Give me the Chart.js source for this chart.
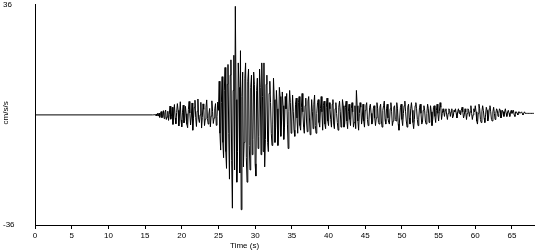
<!DOCTYPE html>
<html>
<head>
<meta charset="utf-8">
<title>Acceleration record</title>
<script src="https://cdn.jsdelivr.net/npm/chart.js@4.4.1/dist/chart.umd.min.js"></script>
<style>
    body { margin: 0; background: #fff; }
    canvas { display: block; }
</style>
</head>
<body>
<canvas id="seismogram" width="550" height="250"></canvas>
<script>
// Flat lead-in before the first arrival
const leadInTimes = [0];
const leadInValues = [0];

// Acceleration samples (cm/s/s), one every 0.1 s starting at 16.0 s
const sampleStart = 16.0;
const sampleStep = 0.1;
const accel = [
    0, 0, 0, 0.1, -0.2, 0.3, -0.3, 0.5, -0.4, 0.6,                    // 16
    -0.8, 0.5, 1.1, -0.9, -0.6, 1.4, -1.2, 0.8, 1.6, -1.5,            // 17
    -0.7, 1.2, -1.8, 0.2, 2.9, -1.4, -0.5, 2.5, -3.1, 0.6,            // 18
    3.4, -1.0, -2.9, 0.8, 3.7, 1.5, -3.6, 0.3, 4.3, -1.7,             // 19
    -3.9, 0.9, 3.2, -2.6, -1.8, 2.8, 0.4, -3.1, -4.2, 1.7,            // 20
    4.4, 0.6, -3.3, -0.7, 3.9, -5.0, -1.1, 2.5, 4.8, -0.9,            // 21
    -3.8, 1.2, 5.2, -1.4, -2.5, 0.0, 4.1, -4.3, -0.9, 3.6,            // 22
    1.8, -3.5, -1.4, 2.5, 4.9, -1.2, -3.0, 0.3, 2.1, -3.9,            // 23
    -0.4, 4.6, 1.1, -2.8, -1.0, 2.0, 3.7, -3.4, -0.6, 4.2,            // 24
    1.5, 11.0, -6.0, -11.5, 4.0, 12.5, -9.0, -14.0, 8.0, 15.5,        // 25
    -12.0, -17.5, 10.0, 16.5, -6.0, -21.0, 13.0, 18.0, -15.0, -30.5,  // 26
    8.0, 19.5, -18.0, 35.5, 5.0, -22.0, -12.0, 17.0, 9.0, -19.0,      // 27
    21.0, -31.0, 6.0, 14.0, -17.0, -9.0, 12.0, 17.0, -14.0, -22.0,    // 28
    11.0, 15.0, -10.0, -18.0, 9.0, 13.0, -13.0, -8.0, 14.0, 10.0,     // 29
    -16.0, -20.0, 8.0, 12.0, -11.0, -7.0, 15.0, 9.0, -13.0, 17.0,     // 30
    6.0, -12.0, 17.0, -17.0, -8.0, 10.0, 13.0, -9.0, -12.0, 7.0,      // 31
    11.0, 4.0, -6.0, -10.0, -3.0, 12.0, 5.0, -9.0, -4.0, 8.0,         // 32
    2.0, -10.0, -5.0, 9.0, 6.0, -7.0, -2.0, 7.5, 3.0, -8.0,           // 33
    -4.0, 6.0, 2.0, 7.0, -3.0, -11.0, 1.0, 8.0, 4.0, -6.0,            // 34
    -2.0, 6.5, 1.0, -5.0, -7.0, 3.5, 5.5, -1.0, -6.0, 4.0,            // 35
    6.0, -3.5, -5.0, 2.5, 7.0, 1.0, -4.0, -6.0, 3.0, 5.5,             // 36
    -2.0, -5.5, 4.5, 6.0, -1.0, -6.5, -2.0, 5.0, 1.0, -4.5,           // 37
    3.5, 6.5, -3.5, -6.0, 0.5, 4.0, 5.0, -2.5, -4.0, 2.0,             // 38
    6.0, 1.0, -5.0, 3.0, 4.5, -3.0, -4.5, 2.5, 5.5, -2.0,             // 39
    -3.5, 4.0, 2.0, -1.5, -4.0, 3.5, 5.0, -3.0, -4.5, 2.0,            // 40
    4.0, 0.5, -2.5, -5.0, 2.5, 4.5, 1.0, -4.0, -2.0, 5.0,             // 41
    3.0, -4.0, -3.0, 2.5, 4.5, -2.0, -4.5, 1.0, 3.5, -1.5,            // 42
    -3.5, 2.0, 4.0, 1.0, -4.0, -2.5, 3.0, -4.5, 8.0, 3.0,             // 43
    -2.0, -5.0, 0.5, 4.0, 2.5, -3.0, -1.0, 3.5, -2.0, -4.0,           // 44
    1.5, 3.0, 4.0, -1.5, -3.5, -2.0, 2.5, 3.5, 0.5, -3.0,             // 45
    -2.5, 2.0, 3.0, -1.0, -3.5, -1.0, 4.0, 2.0, -2.5, -3.0,           // 46
    2.5, 3.5, -2.0, -4.0, 1.5, 3.0, 4.5, -1.5, -3.0, 2.0,             // 47
    3.5, -1.0, -2.5, -3.0, 2.0, 4.0, 1.0, -3.5, -2.0, 2.5,            // 48
    3.0, -1.5, -2.0, 4.0, 2.0, -3.0, -5.0, -1.0, 2.5, 3.5,            // 49
    -1.5, -3.5, 0.5, 3.0, 4.5, 1.0, -2.0, -4.0, 2.5, 3.5,             // 50
    -1.0, -3.0, 2.0, 4.0, 1.5, -2.5, -4.5, -1.5, 3.0, 4.0,            // 51
    2.0, -1.5, -3.5, -1.0, 2.5, 3.5, 0.5, -3.0, -2.5, 1.5,            // 52
    3.0, 1.5, -2.0, -3.0, 0.5, 3.5, 2.0, -2.5, -1.0, 3.0,             // 53
    1.0, -3.5, -1.5, 2.5, 3.0, -0.5, -2.5, 1.5, 3.5, 0.5,             // 54
    -2.0, 1.0, 4.0, 2.5, -1.5, 0.5, 2.0, 1.0, -0.5, 1.5,              // 55
    2.0, 0.0, -1.5, 0.5, 2.0, 1.5, -0.5, 1.0, 2.0, -1.0,              // 56
    -0.5, 1.5, 1.0, 2.0, 0.5, -1.0, 1.0, 2.0, 0.5, 1.5,               // 57
    0.0, 1.5, 2.5, 1.0, -1.0, 0.0, 2.0, 1.0, -1.5, 0.5,               // 58
    2.0, 1.5, -0.5, 1.0, 3.0, 0.5, -1.5, 0.0, 2.0, 1.0,               // 59
    3.0, 1.0, -2.0, -3.0, 0.5, 3.5, 2.0, -1.5, -2.5, 1.0,             // 60
    3.0, 1.5, -1.0, -2.5, 0.0, 2.5, 1.5, -2.0, -1.0, 2.0,             // 61
    3.0, 1.0, -1.5, -2.0, 1.0, 2.5, 0.5, -1.5, 0.5, 2.0,              // 62
    1.5, -0.5, 0.5, 2.0, 1.5, -1.0, 0.0, 1.5, 1.0, -0.5,              // 63
    1.0, 2.0, 0.5, -0.5, 1.0, 1.5, 0.5, -0.5, 1.0, 1.5,               // 64
    0.5, 1.0, 1.5, 0.0, -0.5, 1.0, 1.0, 0.5, 0.0, 1.0,                // 65
    1.0, 0.5, 0.5, 1.0, 0.5, 0.0, 0.5, 1.0, 0.5, 0.5,                 // 66
    0.5, 0.5, 0.5, 0.5, 0.5, 0.5, 0.5, 0.5, 0.5, 0.5,                 // 67
    0.5                                                               // 68
];

const xTickValues = [0, 5, 10, 15, 20, 25, 30, 35, 40, 45, 50, 55, 60, 65];
const yTickValues = [-36, 36];
const xRange = [0, 68];
const yRange = [-36, 36];
const xTitle = 'Time (s)';
const yTitle = 'cm/s/s';

Chart.defaults.font.family = '"Liberation Sans", Arial, sans-serif';
Chart.defaults.font.size = 8;
Chart.defaults.color = '#000';

// axis titles sit in odd spots on the original, so they are drawn by hand
const axisTitlePlugin = {
    id: 'axisTitles',
    afterDraw(chart) {
        const { ctx, chartArea } = chart;
        ctx.save();
        ctx.fillStyle = '#000';
        ctx.font = '8px "Liberation Sans", Arial, sans-serif';
        ctx.textAlign = 'center';
        ctx.textBaseline = 'middle';
        ctx.fillText(xTitle, chartArea.left + (chartArea.right - chartArea.left) * 0.42, 246);
        ctx.translate(6, (chartArea.top + chartArea.bottom) / 2 - 2);
        ctx.rotate(-Math.PI / 2);
        ctx.fillText(yTitle, 0, 0);
        ctx.restore();
    }
};

class SeismogramChart {
    constructor(canvasId) {
        const ctx = document.getElementById(canvasId).getContext('2d');
        this.chart = new Chart(ctx, this.buildConfig());
    }

    buildPoints() {
        const points = leadInTimes.map((t, i) => ({ x: t, y: leadInValues[i] }));
        accel.forEach((v, i) => {
            points.push({ x: Math.round((sampleStart + i * sampleStep) * 10) / 10, y: v });
        });
        return points;
    }

    buildConfig() {
        return {
            type: 'line',
            data: {
                datasets: [{
                    data: this.buildPoints(),
                    borderColor: '#000',
                    borderWidth: 1,
                    pointRadius: 0,
                    tension: 0,
                    fill: false
                }]
            },
            options: {
                responsive: false,
                animation: false,
                devicePixelRatio: 1,
                layout: { padding: { left: 3, right: 16, top: 0, bottom: 0 } },
                plugins: { legend: { display: false }, tooltip: { enabled: false } },
                scales: {
                    x: {
                        type: 'linear',
                        min: xRange[0],
                        max: xRange[1],
                        afterBuildTicks: scale => { scale.ticks = xTickValues.map(v => ({ value: v })); },
                        afterFit: scale => { scale.height = 25; },
                        ticks: { padding: 2, maxRotation: 0, autoSkip: false },
                        grid: { drawOnChartArea: false, drawTicks: true, tickLength: 4, color: '#000' },
                        border: { color: '#000', width: 1 }
                    },
                    y: {
                        type: 'linear',
                        min: yRange[0],
                        max: yRange[1],
                        afterBuildTicks: scale => { scale.ticks = yTickValues.map(v => ({ value: v })); },
                        afterFit: scale => { scale.width = 32; },
                        ticks: { crossAlign: 'far', padding: 0 },
                        grid: { drawOnChartArea: false, drawTicks: false },
                        border: { color: '#000', width: 1 }
                    }
                }
            },
            plugins: [axisTitlePlugin]
        };
    }
}

new SeismogramChart('seismogram');
</script>
</body>
</html>
